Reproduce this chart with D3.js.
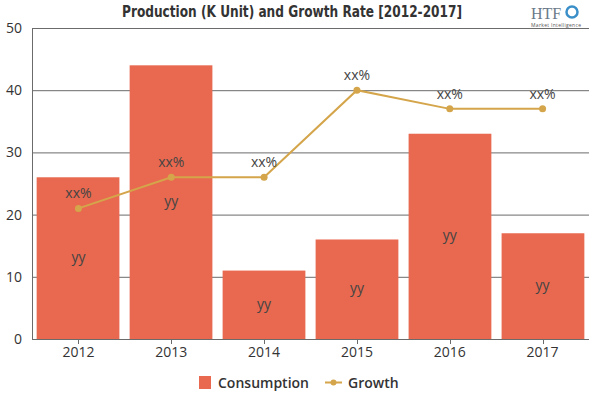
<!DOCTYPE html>
<html>
<head>
<meta charset="utf-8">
<script src="https://cdn.jsdelivr.net/npm/d3@7"></script>
<style>
  body { margin: 0; background: #fff; }
  text { font-family: "Open Sans", "DejaVu Sans", sans-serif; }
</style>
</head>
<body>
<script>
// chart data
var years = ["2012", "2013", "2014", "2015", "2016", "2017"];
var consumption = [26, 44, 11, 16, 33, 17];
var growth = [21, 26, 26, 40, 37, 37];
var barLabels = ["yy", "yy", "yy", "yy", "yy", "yy"];
var growthLabels = ["xx%", "xx%", "xx%", "xx%", "xx%", "xx%"];
var yTicks = [0, 10, 20, 30, 40, 50];

var width = 600, height = 400;
var plotLeft = 32, plotRight = 589, plotTop = 28, plotBottom = 339;
var barColor = "#E8694F";
var lineColor = "#D4A54A";

var svg = d3.select("body").append("svg")
    .attr("width", width)
    .attr("height", height);

var x = d3.scaleBand().domain(years).range([plotLeft, plotRight]).paddingInner(0.11).paddingOuter(0.05);
var xc = d3.scalePoint().domain(years).range([plotLeft, plotRight]).padding(0.5);
var y = d3.scaleLinear().domain([0, 50]).range([plotBottom, plotTop]);

// gridlines
svg.append("g").selectAll("line")
    .data(yTicks)
    .enter().append("line")
    .attr("x1", plotLeft).attr("x2", plotRight)
    .attr("y1", function(d){ return y(d) + 0.5; })
    .attr("y2", function(d){ return y(d) + 0.5; })
    .attr("stroke", "#6b6b6b")
    .attr("stroke-width", 1);

// y axis labels
svg.append("g").selectAll("text")
    .data(yTicks)
    .enter().append("text")
    .attr("x", 22)
    .attr("y", function(d){ return y(d); })
    .attr("dy", "0.35em")
    .attr("text-anchor", "end")
    .style("font-size", "14px")
    .attr("fill", "#333")
    .text(function(d){ return d; });

// bars
svg.append("g").selectAll("rect")
    .data(consumption)
    .enter().append("rect")
    .attr("x", function(d, i){ return x(years[i]); })
    .attr("width", x.bandwidth())
    .attr("y", function(d){ return y(d); })
    .attr("height", function(d){ return y(0) - y(d); })
    .attr("fill", barColor);

// axis lines
svg.append("line")
    .attr("x1", plotLeft + 0.5).attr("x2", plotLeft + 0.5)
    .attr("y1", plotTop).attr("y2", plotBottom + 0.5)
    .attr("stroke", "#6b6b6b");
svg.append("line")
    .attr("x1", plotLeft).attr("x2", plotRight)
    .attr("y1", plotBottom + 0.5).attr("y2", plotBottom + 0.5)
    .attr("stroke", "#6b6b6b");

// x ticks
svg.append("g").selectAll("line")
    .data(years)
    .enter().append("line")
    .attr("x1", function(d){ return Math.round(xc(d)) + 0.5; })
    .attr("x2", function(d){ return Math.round(xc(d)) + 0.5; })
    .attr("y1", plotBottom).attr("y2", plotBottom + 5)
    .attr("stroke", "#6b6b6b");

svg.append("g").selectAll("text")
    .data(years)
    .enter().append("text")
    .attr("x", function(d){ return xc(d); })
    .attr("y", 357)
    .attr("text-anchor", "middle")
    .style("font-size", "14px")
    .attr("fill", "#333")
    .text(function(d){ return d; });

// bar labels
svg.append("g").selectAll("text")
    .data(consumption)
    .enter().append("text")
    .attr("x", function(d, i){ return xc(years[i]); })
    .attr("y", function(d){ return (y(d) + y(0)) / 2 - 1; })
    .attr("dy", "0.35em")
    .attr("text-anchor", "middle")
    .style("font-size", "14px")
    .attr("fill", "#444")
    .text(function(d, i){ return barLabels[i]; });

// growth line
var line = d3.line()
    .x(function(d, i){ return xc(years[i]); })
    .y(function(d){ return y(d); });

svg.append("path")
    .datum(growth)
    .attr("d", line)
    .attr("fill", "none")
    .attr("stroke", lineColor)
    .attr("stroke-width", 2);

svg.append("g").selectAll("circle")
    .data(growth)
    .enter().append("circle")
    .attr("cx", function(d, i){ return xc(years[i]); })
    .attr("cy", function(d){ return y(d); })
    .attr("r", 3.5)
    .attr("fill", lineColor);

svg.append("g").selectAll("text")
    .data(growth)
    .enter().append("text")
    .attr("x", function(d, i){ return xc(years[i]); })
    .attr("y", function(d){ return y(d) - 10; })
    .attr("text-anchor", "middle")
    .style("font-size", "14px")
    .attr("fill", "#444")
    .text(function(d, i){ return growthLabels[i]; });

// title
svg.append("text")
    .attr("x", 122)
    .attr("y", 17)
    .attr("textLength", 340)
    .attr("lengthAdjust", "spacingAndGlyphs")
    .style("font-family", "'DejaVu Sans Condensed', 'DejaVu Sans', sans-serif")
    .style("font-weight", "bold")
    .style("font-size", "15px")
    .attr("fill", "#333")
    .text("Production (K Unit) and Growth Rate [2012-2017]");

// logo
var logo = svg.append("g").attr("transform", "translate(531,0)");
logo.append("text")
    .attr("x", 0).attr("y", 19)
    .style("font-family", "'Liberation Serif', serif")
    .style("font-size", "16px")
    .attr("fill", "#6a7a8a")
    .text("HTF");
logo.append("circle")
    .attr("cx", 41).attr("cy", 12).attr("r", 5.5)
    .attr("fill", "none")
    .attr("stroke", "#3a8fc8")
    .attr("stroke-width", 2.5);
logo.append("text")
    .attr("x", 0).attr("y", 27)
    .attr("textLength", 50)
    .style("font-size", "5px")
    .attr("fill", "#555")
    .text("Market Intelligence");

// legend
var legend = svg.append("g");
legend.append("rect")
    .attr("x", 199).attr("y", 376)
    .attr("width", 12).attr("height", 13)
    .attr("fill", barColor);
legend.append("text")
    .attr("x", 218).attr("y", 388)
    .style("font-size", "14px")
    .style("font-weight", "600")
    .attr("fill", "#333")
    .text("Consumption");
legend.append("line")
    .attr("x1", 325).attr("x2", 342)
    .attr("y1", 382.5).attr("y2", 382.5)
    .attr("stroke", lineColor)
    .attr("stroke-width", 2);
legend.append("circle")
    .attr("cx", 333.5).attr("cy", 382.5).attr("r", 3)
    .attr("fill", lineColor);
legend.append("text")
    .attr("x", 348).attr("y", 388)
    .style("font-size", "14px")
    .style("font-weight", "600")
    .attr("fill", "#333")
    .text("Growth");
</script>
</body>
</html>
